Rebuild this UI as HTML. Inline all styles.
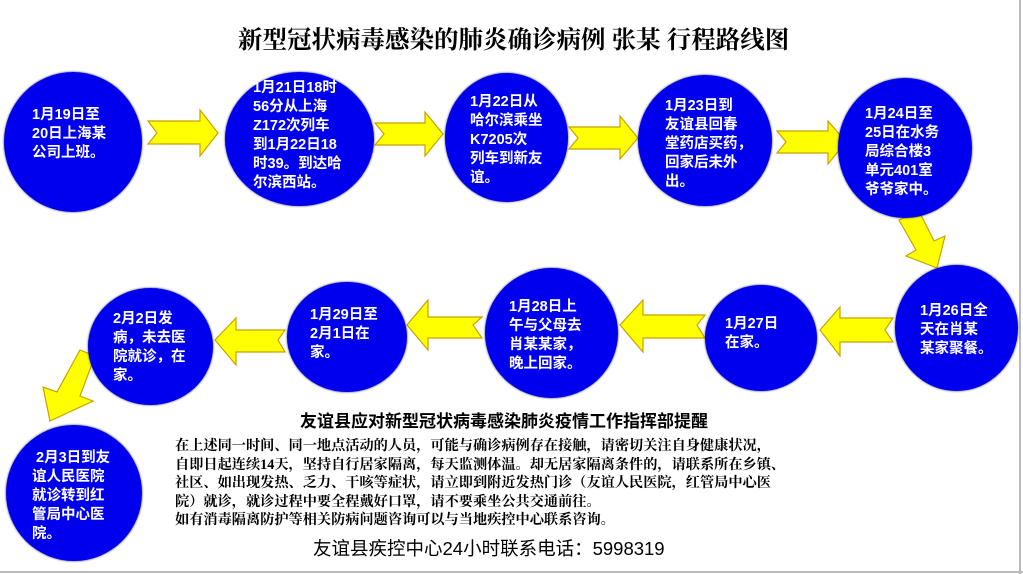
<!DOCTYPE html>
<html><head><meta charset="utf-8"><style>
body{margin:0;width:1023px;height:574px;overflow:hidden;background:#fff;font-family:"Liberation Sans","Noto Sans CJK SC",sans-serif;}
.c{position:absolute;background:#0000ee;border-radius:50%;box-shadow:0 0 2px #335;color:#fff;font-weight:bold;font-size:14.5px;line-height:19px;}
.c div{position:absolute;}
.t{position:absolute;white-space:nowrap;}
</style></head><body>
<div style="position:absolute;left:1019px;top:0;width:2px;height:574px;background:#bbb"></div>
<div style="position:absolute;left:0;top:571px;width:1023px;height:2px;background:#bbb"></div>
<div class="t" style="left:238px;top:21px;font-size:24.5px;font-weight:bold;font-family:'Liberation Serif','Noto Serif CJK SC',serif">新型冠状病毒感染的肺炎确诊病例 张某 行程路线图</div>

<svg width="1023" height="574" style="position:absolute;left:0;top:0">
<g fill="#ffff00" stroke="#c9a100" stroke-width="1.2">
<polygon points="148,121 200,121 200,110 218,133 200,156 200,144 148,144 157,133"/>
<polygon points="375,123 425,123 425,112 443,134 425,156 425,145 375,145 384,134"/>
<polygon points="569,127 620,127 620,116 638,138 620,159 620,149 569,149 578,138"/>
<polygon points="777,131 828,131 828,121 846,142 828,164 828,153 777,153 786,142"/>
<polygon points="899,220 919,211 934,241 945,236 937,268 906,256 916,250"/>
<polygon points="893,318 840,318 840,307 820,330 840,356 840,342 893,342 885,330"/>
<polygon points="705,315 643,315 643,300 620,325 643,352 643,338 705,338 697,325"/>
<polygon points="482,317 428,317 428,300 407,325 428,350 428,338 482,338 473,325"/>
<polygon points="285,330 236,330 236,318 215,340 236,365 236,352 285,352 278,340"/>
<polygon points="80,350 95,356 80,396 93,401 50,421 43,387 57,392"/>
</g>
</svg>

<div class="c" style="left:4px;top:72px;width:138px;height:140px"><div style="left:28px;top:34px">1月19日至<br>20日上海某<br>公司上班。</div></div>
<div class="c" style="left:225px;top:72px;width:149px;height:134px"><div style="left:28px;top:7px">1月21日18时<br>56分从上海<br>Z172次列车<br>到1月22日18<br>时39。到达哈<br>尔滨西站。</div></div>
<div class="c" style="left:445px;top:73px;width:123px;height:129px"><div style="left:25px;top:20px">1月22日从<br>哈尔滨乘坐<br>K7205次<br>列车到新友<br>谊。</div></div>
<div class="c" style="left:638px;top:75px;width:134px;height:131px"><div style="left:27px;top:22px">1月23日到<br>友谊县回春<br>堂药店买药，<br>回家后未外<br>出。</div></div>
<div class="c" style="left:838px;top:78px;width:134px;height:140px"><div style="left:27px;top:27px">1月24日至<br>25日在水务<br>局综合楼3<br>单元401室<br>爷爷家中。</div></div>

<div class="c" style="left:895px;top:265px;width:123px;height:126px"><div style="left:25px;top:37px">1月26日全<br>天在肖某<br>某家聚餐。</div></div>
<div class="c" style="left:705px;top:285px;width:112px;height:106px"><div style="left:20px;top:30px">1月27日<br>在家。</div></div>
<div class="c" style="left:485px;top:268px;width:133px;height:130px"><div style="left:24px;top:30px">1月28日上<br>午与父母去<br>肖某某家，<br>晚上回家。</div></div>
<div class="c" style="left:287px;top:282px;width:120px;height:110px"><div style="left:23px;top:24px">1月29日至<br>2月1日在<br>家。</div></div>
<div class="c" style="left:88px;top:288px;width:125px;height:117px"><div style="left:25px;top:22px">2月2日发<br>病，未去医<br>院就诊，在<br>家。</div></div>
<div class="c" style="left:6px;top:425px;width:136px;height:136px"><div style="left:26px;top:24px">&nbsp;2月3日到友<br>谊人民医院<br>就诊转到红<br>管局中心医<br>院。</div></div>

<div class="t" style="left:300px;top:407px;font-size:17px;font-weight:bold">友谊县应对新型冠状病毒感染肺炎疫情工作指挥部提醒</div>
<div class="t" style="left:175px;top:437px;font-size:14.2px;line-height:18.6px;font-weight:bold;font-family:'Liberation Serif','Noto Serif CJK SC',serif">在上述同一时间、同一地点活动的人员，可能与确诊病例存在接触，请密切关注自身健康状况，<br>自即日起连续14天，坚持自行居家隔离，每天监测体温。却无居家隔离条件的，请联系所在乡镇、<br>社区、如出现发热、乏力、干咳等症状，请立即到附近发热门诊（友谊人民医院，红管局中心医<br>院）就诊，就诊过程中要全程戴好口罩，请不要乘坐公共交通前往。<br>如有消毒隔离防护等相关防病问题咨询可以与当地疾控中心联系咨询。</div>
<div class="t" style="left:313px;top:535px;font-size:18.5px">友谊县疾控中心24小时联系电话：5998319</div>
</body></html>
